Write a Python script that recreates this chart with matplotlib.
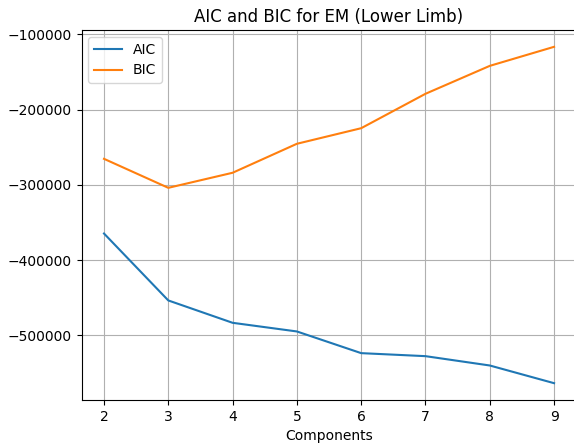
import matplotlib
matplotlib.use("Agg")
import matplotlib.pyplot as plt

# Number of mixture components
components = [2, 3, 4, 5, 6, 7, 8, 9]

# Information criteria
aic = [-364700, -453600, -483300, -494800, -523600, -527600, -540000, -563500]
bic = [-265500, -304000, -284000, -245500, -224800, -179100, -142000, -116700]

fig = plt.figure(figsize=(5.74, 4.45), dpi=100)
# the reference is cropped so the right spine falls just past the image edge
ax = fig.add_axes([81.5 / 574, 1 - 400 / 445, 501.5 / 574, 370 / 445])

ax.plot(components, aic, label="AIC")
ax.plot(components, bic, label="BIC")
ax.set_xlim(1.65, 9.45)
# keep the texts centred where the uncropped axes had its middle
ax.set_title("AIC and BIC for EM (Lower Limb)", x=0.4925)
ax.set_xlabel("Components")
ax.xaxis.set_label_coords(0.494, -0.079)
ax.legend(loc="upper left")
ax.grid(True)

fig.savefig("out.png", dpi=100)
